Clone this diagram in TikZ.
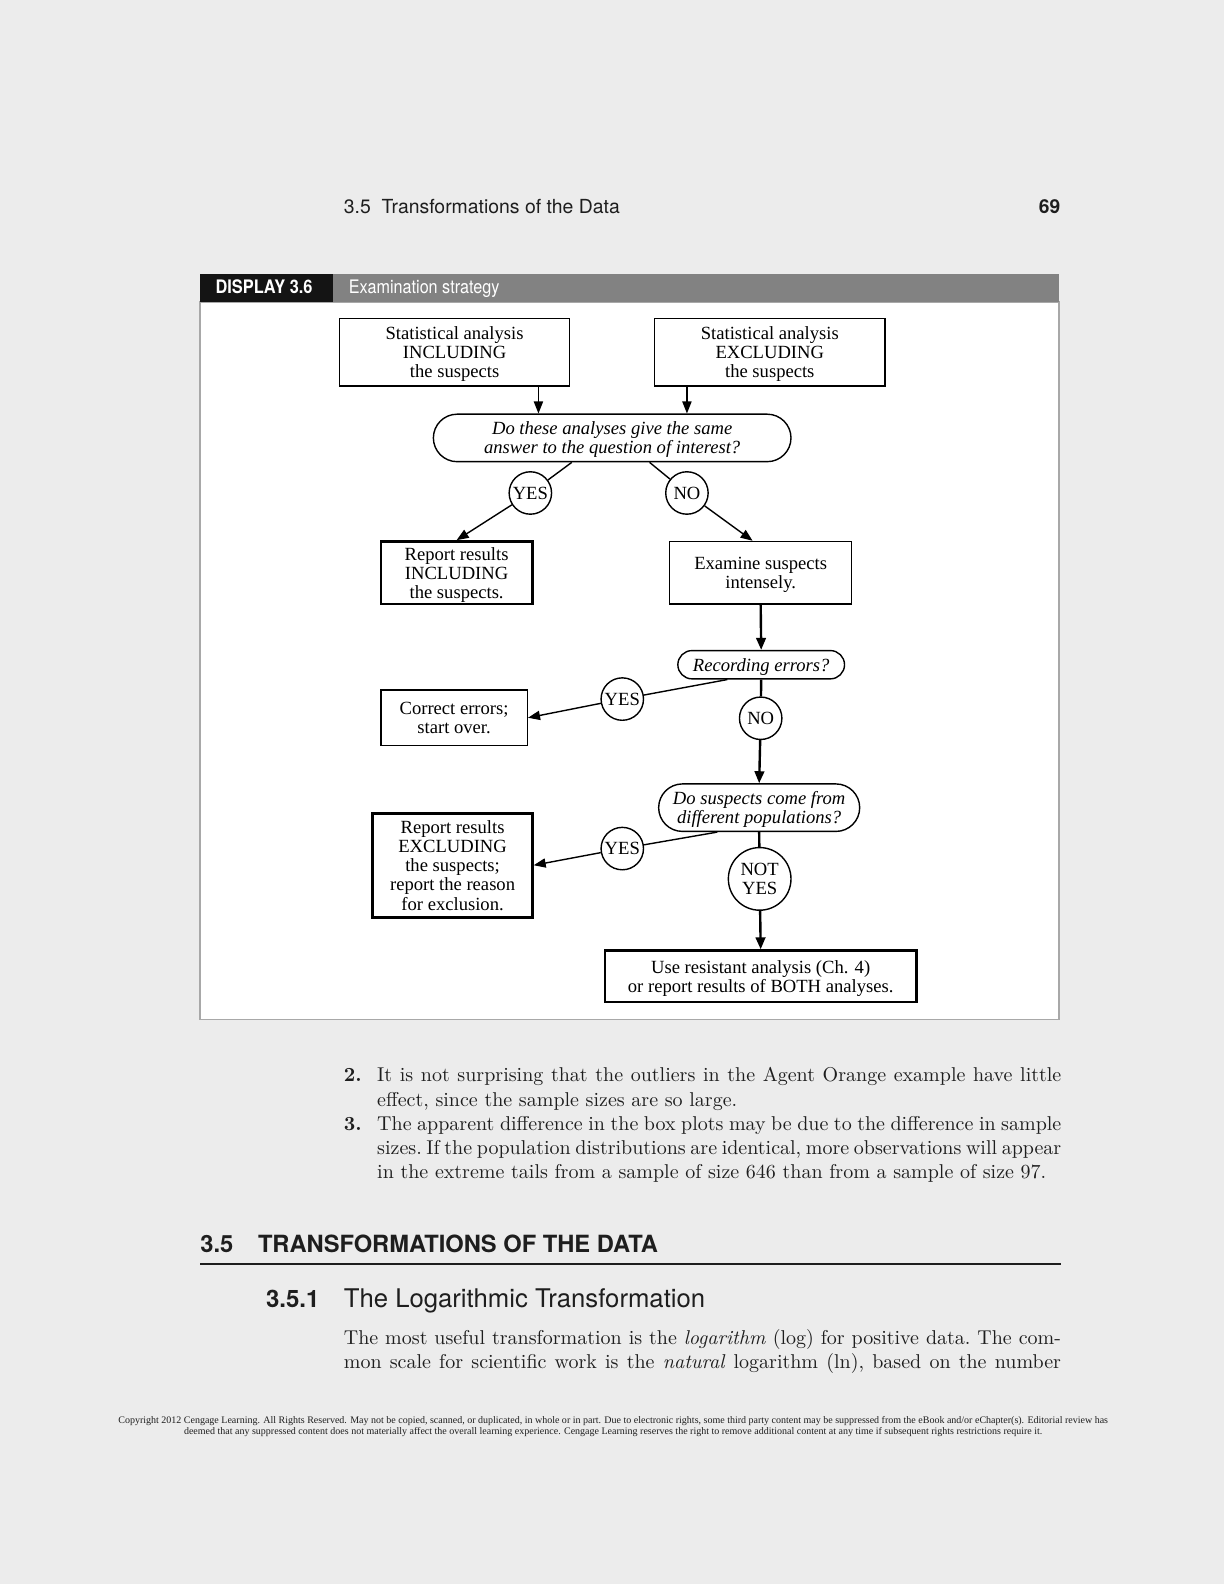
\documentclass[tikz,border=0pt]{standalone}
\usepackage{fontspec}
\usepackage{graphicx}
\newfontfamily\tms{Liberation Serif}
\newfontfamily\hel{TeX Gyre Heros}
\usetikzlibrary{shapes.misc,arrows.meta}
\definecolor{pagebg}{HTML}{ECECEC}
\definecolor{bargray}{HTML}{828282}
\definecolor{framegray}{HTML}{A8A8A8}
\definecolor{ink}{HTML}{1E1E1E}
\newcommand\dfont{\tms\fontsize{9.3}{9.6}\selectfont}
\newcommand\bodyfont{\fontsize{10}{12}\selectfont\frenchspacing}
\begin{document}
\begin{tikzpicture}[x=0.505pt,y=-0.505pt,
  sz/.style 2 args={minimum width=#1*0.505pt, minimum height=#2*0.505pt},
  box/.style={draw, line width=0.7pt, inner sep=0pt, align=center, font=\dfont, fill=white, text depth=0pt},
  tbox/.style={box, line width=1.3pt},
  rbox/.style={draw, rounded rectangle, line width=0.7pt, inner sep=0pt, align=center, font=\dfont\itshape, text depth=0pt},
  circ/.style={draw, circle, line width=0.7pt, inner sep=0pt, align=center, font=\dfont},
  ln/.style={line width=0.7pt},
  arr/.style={ln, -{Triangle[length=6pt,width=4.6pt]}},
  tln/.style={line width=1.2pt},
  tarr/.style={tln, -{Triangle[length=6pt,width=4.8pt]}},
  txt/.style={anchor=base west, inner sep=0pt, font=\bodyfont, text=ink},
  hd/.style={anchor=base west, inner sep=0pt, text=ink}]
\fill[pagebg] (0,0) rectangle (1212,1568);
\useasboundingbox (0,0) rectangle (1212,1568);

% running head
\node[hd, font=\hel\fontsize{9.7}{11}\selectfont] (hdr) at (340,211) {3.5\hspace{0.55em}Transformations of the Data};
\node[hd, anchor=base east, font=\hel\bfseries\fontsize{9.6}{11}\selectfont] (pg) at (1050,211) {69};

% display frame
\draw[framegray, fill=white, line width=0.8pt] (198,299) rectangle (1048,1009);
\fill[black!92] (198,271) rectangle (330,299);
\fill[bargray] (330,271) rectangle (1048,299);
\node[hd, text=white, font=\hel\bfseries\fontsize{9.3}{11}\selectfont] (disp) at (213,291) {\scalebox{0.88}[1]{DISPLAY 3.6}};
\node[hd, text=white, font=\hel\fontsize{9.3}{11}\selectfont] (dtitle) at (345,291) {\scalebox{0.87}[1]{Examination strategy}};

% flowchart
\node[box, sz={228}{67}] (b1) at (450,348.5) {Statistical analysis\\INCLUDING\\the suspects};
\node[box, sz={228}{67}] (b2) at (762,348.5) {Statistical analysis\\EXCLUDING\\the suspects};
\node[rbox, sz={354}{47}] (q1) at (606,433.5) {Do these analyses give the same\\answer to the question of interest?};
\node[circ, sz={42}{42}] (y1) at (525,488) {YES};
\node[circ, sz={42}{42}] (n1) at (680,488) {NO};
\node[tbox, sz={150}{62}] (r1) at (452,567) {Report results\\INCLUDING\\the suspects.};
\node[box, sz={180}{62}] (ex) at (753,567) {Examine suspects\\intensely.};
\node[rbox, sz={165}{28}] (rec) at (753.5,658) {Recording errors?};
\node[circ, sz={42}{42}] (y2) at (616,692) {YES};
\node[box, sz={145}{55}] (ce) at (449.5,710.5) {Correct errors;\\start over.};
\node[circ, sz={42}{42}] (n2) at (753,711) {NO};
\node[rbox, sz={199}{47}] (q3) at (751.5,799.5) {Do suspects come from\\different populations?};
\node[circ, sz={42}{42}] (y3) at (616,840) {YES};
\node[tbox, sz={158}{103}] (r2) at (448,856.5) {Report results\\EXCLUDING\\the suspects;\\report the reason\\for exclusion.};
\node[circ, sz={62}{62}] (ny) at (752,870) {NOT\\YES};
\node[tbox, sz={308}{51}] (use) at (753,966.5) {Use resistant analysis (Ch. 4)\\or report results of BOTH analyses.};

\draw[arr] (533,0 |- b1.south) -- (533,0 |- q1.north);
\draw[arr] (680,0 |- b2.south) -- (680,0 |- q1.north);
\draw[ln] (566,0 |- q1.south) -- (y1);
\draw[arr] (y1) -- (r1.north);
\draw[ln] (643,0 |- q1.south) -- (n1);
\draw[arr] (n1) -- (745,0 |- ex.north);
\draw[tarr] (ex.south) -- (rec.north);
\draw[ln] (720,0 |- rec.south) -- (y2);
\draw[arr] (y2) -- (ce.east);
\draw[tln] (rec.south) -- (n2);
\draw[tarr] (n2) -- (q3.north);
\draw[ln] (710,0 |- q3.south) -- (y3);
\draw[arr] (y3) -- (r2.east);
\draw[tln] (q3.south) -- (ny);
\draw[tarr] (ny) -- (use.north);

% numbered answers
\node[txt] (n2lab) at (340,1071) {\textbf{2.}};
\node[txt] (l1) at (373,1071) {\makebox[342pt][s]{It is not surprising that the outliers in the Agent Orange example have little}};
\node[txt] (l2) at (373,1095) {effect, since the sample sizes are so large.};
\node[txt] (n3lab) at (340,1119) {\textbf{3.}};
\node[txt] (l3) at (373,1119) {\makebox[342pt][s]{The apparent difference in the box plots may be due to the difference in sample}};
\node[txt] (l4) at (373,1143) {\makebox[342pt][s]{sizes. If the population distributions are identical, more observations will appear}};
\node[txt] (l5) at (373,1167) {in the extreme tails from a sample of size 646 than from a sample of size 97.};

% section heading
\node[hd, font=\hel\bfseries\fontsize{11.85}{13}\selectfont] (secnum) at (198,1240) {3.5};
\node[hd, font=\hel\bfseries\fontsize{11.85}{13}\selectfont] (sectitle) at (255,1240) {TRANSFORMATIONS OF THE DATA};
\draw[ink, line width=1pt] (198,1251) -- (1050,1251);
\node[hd, font=\hel\bfseries\fontsize{12}{14}\selectfont] (subnum) at (263,1294) {3.5.1};
\node[hd, font=\hel\fontsize{12.85}{14}\selectfont] (subtitle) at (340,1294) {The Logarithmic Transformation};

\node[txt] (p1) at (340,1331) {\makebox[358.5pt][s]{The most useful transformation is the \textit{logarithm} (log) for positive data. The com-}};
\node[txt] (p2) at (340,1355) {\makebox[358.5pt][s]{mon scale for scientific work is the \textit{natural} logarithm (ln), based on the number}};

% copyright
\node[anchor=base, inner sep=0pt, font=\tms\fontsize{5}{6}\selectfont, text=ink] (c1) at (607,1409) {Copyright 2012 Cengage Learning. All Rights Reserved. May not be copied, scanned, or duplicated, in whole or in part. Due to electronic rights, some third party content may be suppressed from the eBook and/or eChapter(s). Editorial review has};
\node[anchor=base, inner sep=0pt, font=\tms\fontsize{5}{6}\selectfont, text=ink] (c2) at (607,1420) {deemed that any suppressed content does not materially affect the overall learning experience. Cengage Learning reserves the right to remove additional content at any time if subsequent rights restrictions require it.};
\end{tikzpicture}
\end{document}
